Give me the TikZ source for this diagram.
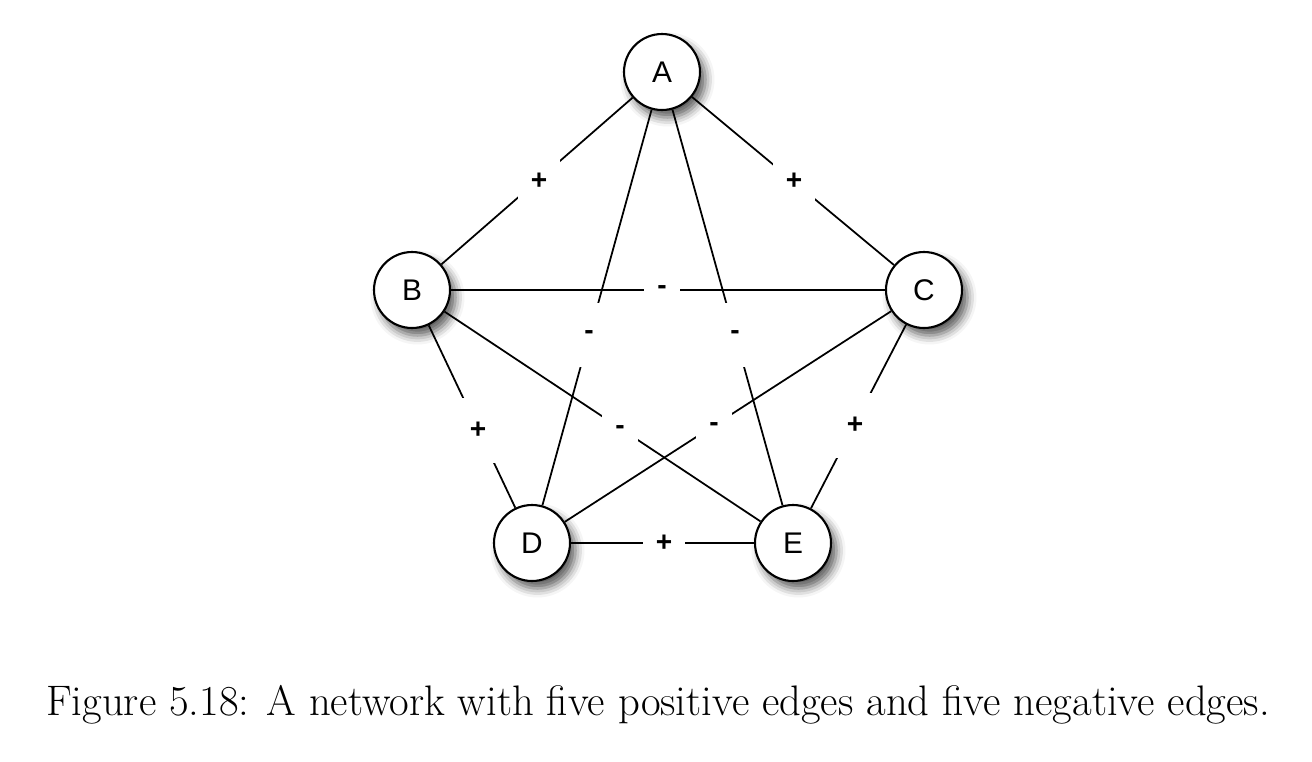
\documentclass[tikz,border=0pt]{standalone}
\usepackage{fontspec}
\newfontfamily\lab{Liberation Sans}
\usetikzlibrary{shadows.blur}
\begin{document}
\begin{tikzpicture}[x=0.02cm,y=-0.02cm,
  vert/.style={circle,draw,line width=1.2pt,fill=white,minimum size=1.52cm,inner sep=0pt,
    font=\lab\fontsize{17}{20}\selectfont,
    blur shadow={shadow xshift=0.11cm,shadow yshift=-0.15cm,shadow blur radius=0.18cm,shadow opacity=65}},
  edge/.style={line width=1pt},
  sg/.style={fill=white,inner xsep=0.26cm,inner ysep=0pt,minimum height=1.3cm,font=\lab\bfseries\fontsize{16}{18}\selectfont}]
\useasboundingbox (0,0) rectangle (1312,761);
\node[vert] (A) at (662,72) {A};
\node[vert] (B) at (412,290) {B};
\node[vert] (C) at (924,290) {C};
\node[vert] (D) at (532,543) {D};
\node[vert] (E) at (793,543) {E};
\draw[edge] (A) -- (B);
\draw[edge] (A) -- (C);
\draw[edge] (B) -- (C);
\draw[edge] (A) -- (D);
\draw[edge] (A) -- (E);
\draw[edge] (B) -- (D);
\draw[edge] (C) -- (E);
\draw[edge] (B) -- (E);
\draw[edge] (C) -- (D);
\draw[edge] (D) -- (E);
\node[sg] (l1) at (539,181) {+};
\node[sg] (l2) at (794,181) {+};
\node[sg] (l3) at (662,290) {-};
\node[sg] (l4) at (589,335) {-};
\node[sg] (l5) at (735,335) {-};
\node[sg] (l6) at (478,430) {+};
\node[sg] (l7) at (855,425) {+};
\node[sg] (l8) at (620,430) {-};
\node[sg] (l9) at (714,427) {-};
\node[sg] (l10) at (664,543) {+};
\node (cap) at (658,705) {\fontsize{24.3}{29}\selectfont Figure 5.18: A network with five positive edges and five negative edges.};
\end{tikzpicture}
\end{document}
